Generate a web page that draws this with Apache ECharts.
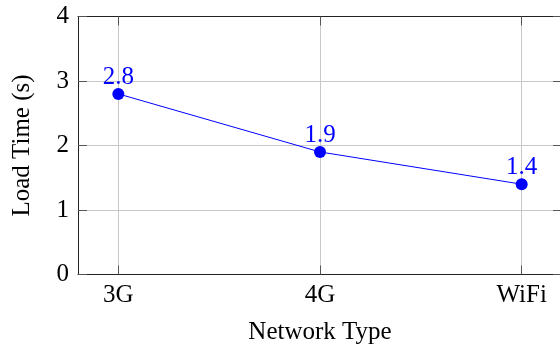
<!DOCTYPE html>
<html>
<head>
<meta charset="utf-8">
<script src="https://cdn.jsdelivr.net/npm/echarts@6/dist/echarts.min.js"></script>
<style>
  html, body { margin: 0; padding: 0; background: #fff; }
  #chart { width: 560px; height: 346px; }
</style>
</head>
<body>
<div id="chart"></div>
<script>
// data
const networkTypes = ['3G', '4G', 'WiFi']
const loadTimes = [2.8, 1.9, 1.4]
const yTicks = [0, 1, 2, 3, 4]

const catIdx = networkTypes.map((_, i) => i)
const points = loadTimes.map((v, i) => [i, v])

const myChart = echarts.init(document.getElementById('chart'))
const font = 'Liberation Serif'
const tickStyle = { show: true, inside: true, length: 9, lineStyle: { color: '#555', width: 1 } }
const lineStyle = { show: true, onZero: false, lineStyle: { color: '#222', width: 1 } }

const chartOption = {
  animation: false,
  textStyle: { fontFamily: font },
  grid: {
    left: 78,
    top: 16.5,
    width: 484,
    height: 258,
    outerBoundsMode: 'none',
    containLabel: false,
    show: false
  },
  xAxis: [
    {
      type: 'value',
      min: -0.2,
      max: 2.2,
      name: 'Network Type',
      nameLocation: 'middle',
      nameGap: 45,
      nameTextStyle: { fontFamily: font, fontSize: 25, color: '#000' },
      axisLine: lineStyle,
      axisTick: { ...tickStyle, customValues: catIdx },
      axisLabel: {
        customValues: catIdx,
        formatter: v => networkTypes[Math.round(v)] || '',
        fontFamily: font,
        fontSize: 25,
        color: '#000',
        margin: 8
      },
      splitLine: { show: true, lineStyle: { color: '#c8c8c8', width: 1 } }
    },
    {
      type: 'value',
      position: 'top',
      min: -0.2,
      max: 2.2,
      axisLine: lineStyle,
      axisTick: { ...tickStyle, customValues: catIdx },
      axisLabel: { show: false },
      splitLine: { show: false }
    }
  ],
  yAxis: [
    {
      type: 'value',
      min: 0,
      max: 4,
      interval: 1,
      name: 'Load Time (s)',
      nameLocation: 'middle',
      nameGap: 43,
      nameTextStyle: { fontFamily: font, fontSize: 25, color: '#000' },
      axisLine: lineStyle,
      axisTick: tickStyle,
      axisLabel: {
        customValues: yTicks,
        fontFamily: font,
        fontSize: 25,
        color: '#000',
        margin: 9
      },
      splitLine: { show: true, lineStyle: { color: '#c8c8c8', width: 1 } }
    },
    {
      type: 'value',
      position: 'right',
      min: 0,
      max: 4,
      interval: 1,
      axisLine: lineStyle,
      axisTick: tickStyle,
      axisLabel: { show: false },
      splitLine: { show: false }
    }
  ],
  series: [
    {
      type: 'line',
      data: points,
      color: '#0000ff',
      symbol: 'circle',
      symbolSize: 12,
      lineStyle: { width: 1, color: '#0000ff' },
      itemStyle: { color: '#0000ff' },
      label: {
        show: true,
        position: 'top',
        distance: -2,
        fontFamily: font,
        fontSize: 25,
        color: '#0000ff'
      }
    }
  ]
}
myChart.setOption(chartOption)
</script>
</body>
</html>
